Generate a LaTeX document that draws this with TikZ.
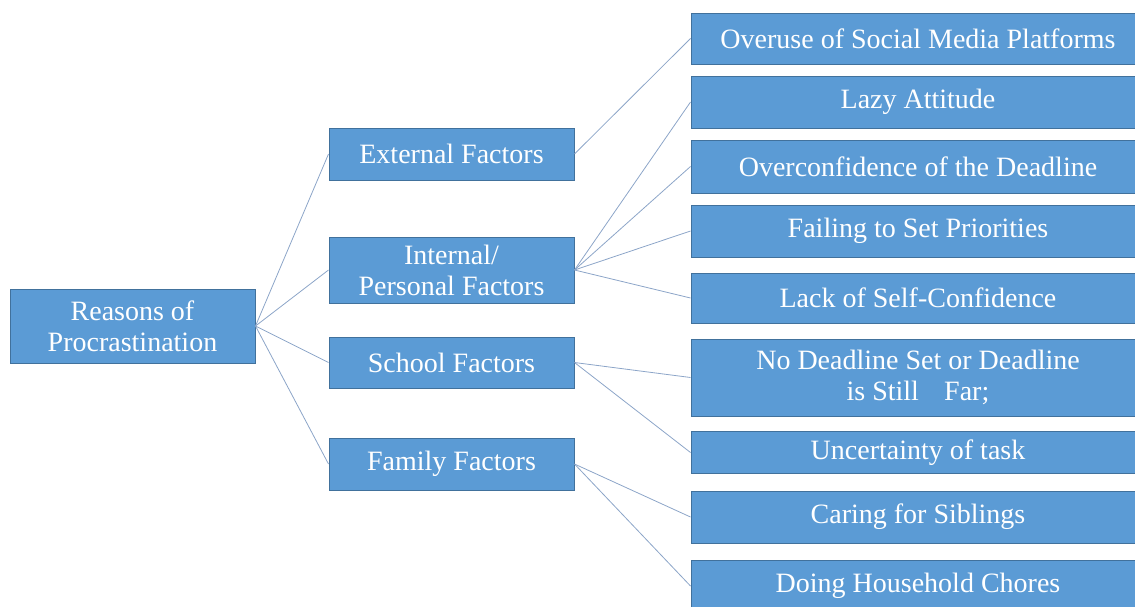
\documentclass[tikz,border=0pt]{standalone}
\usepackage{fontspec}
\setmainfont{Liberation Serif}
\definecolor{boxblue}{RGB}{91,155,213}
\definecolor{boxedge}{RGB}{65,113,156}
\definecolor{linkblue}{RGB}{140,165,200}
\begin{document}
\begin{tikzpicture}[x=1pt,y=-1pt,-,
            main node/.style={rectangle,draw=boxedge,fill=boxblue,line width=1pt,
              text=white,align=center,inner sep=0pt,
              font=\fontsize{28}{31}\selectfont},
            root node/.style={main node,minimum width=245pt},
            mid node/.style={main node,minimum width=245pt},
            leaf node/.style={main node,minimum width=454pt}]

        \useasboundingbox (0,0) rectangle (1135,606);
        \clip (0,0) rectangle (1135,606);

        % Define vertices
        \node[root node,minimum height=74pt] (R) at (132.5,326) {Reasons of\\Procrastination};

        \node[mid node,minimum height=52pt] (E) at (451.5,154) {External Factors};
        \node[mid node,minimum height=66pt] (I) at (451.5,270) {Internal/\\Personal Factors};
        \node[mid node,minimum height=51pt] (S) at (451.5,362.5) {School Factors};
        \node[mid node,minimum height=52pt] (F) at (451.5,464) {Family Factors};

        \node[leaf node,minimum height=51pt] (E1) at (918,38.5) {Overuse of Social Media Platforms};
        \node[leaf node,minimum height=52pt] (I1) at (918,102) {Lazy Attitude};
        \node[leaf node,minimum height=53pt] (I2) at (918,166.5) {Overconfidence of the Deadline};
        \node[leaf node,minimum height=52pt] (I3) at (918,231) {Failing to Set Priorities};
        \node[leaf node,minimum height=50pt] (I4) at (918,298) {Lack of Self-Confidence};
        \node[leaf node,minimum height=77pt] (S1) at (918,377.5) {No Deadline Set or Deadline\\is Still\hspace{0.9em}Far;};
        \node[leaf node,minimum height=42pt] (S2) at (918,452.5) {Uncertainty of task};
        \node[leaf node,minimum height=52pt] (F1) at (918,517) {Caring for Siblings};
        \node[leaf node,minimum height=52pt] (F2) at (918,586) {Doing Household Chores};

        % Draw edges
        \path[draw=linkblue,line width=0.8pt]
            (R.east) edge (E.west)
            (R.east) edge (I.west)
            (R.east) edge (S.west)
            (R.east) edge (F.west)
            (E.east) edge (E1.west)
            (I.east) edge (I1.west)
            (I.east) edge (I2.west)
            (I.east) edge (I3.west)
            (I.east) edge (I4.west)
            (S.east) edge (S1.west)
            (S.east) edge (S2.west)
            (F.east) edge (F1.west)
            (F.east) edge (F2.west);

        \end{tikzpicture}
\end{document}
